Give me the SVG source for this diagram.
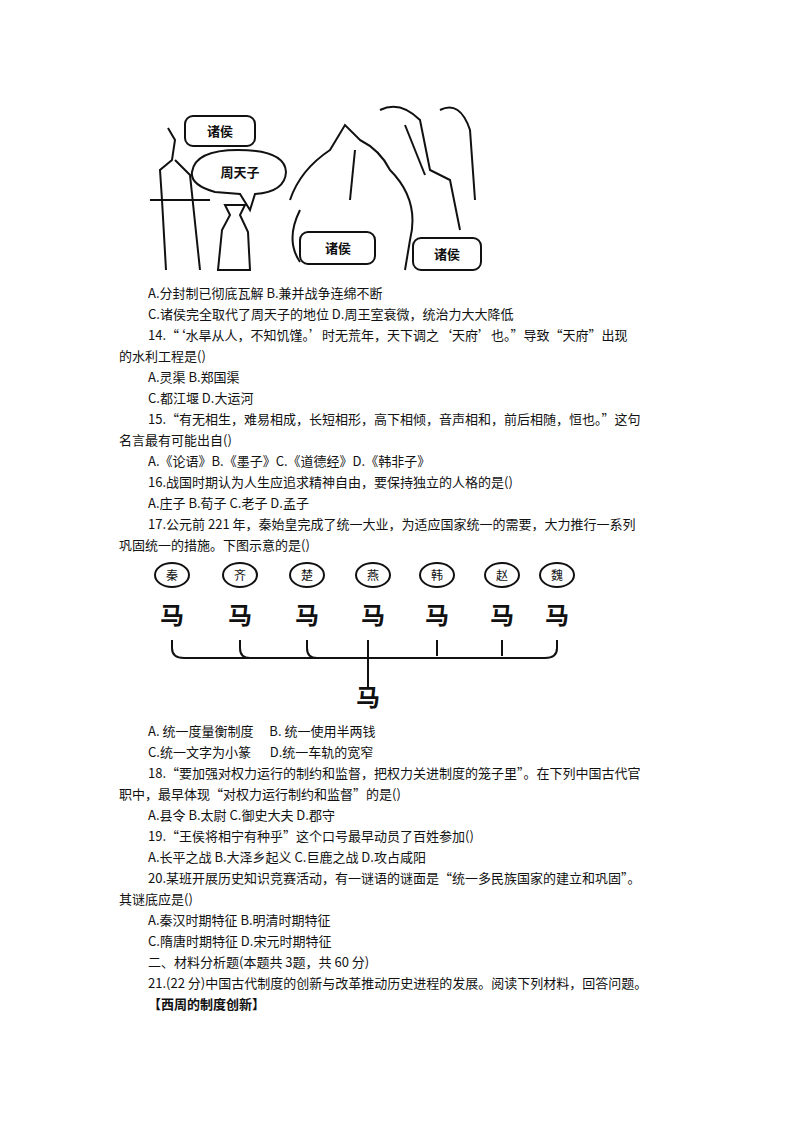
<svg xmlns="http://www.w3.org/2000/svg" width="794" height="1123" viewBox="0 0 794 1123">
<style>
text{font-family:"Noto Sans CJK SC","Liberation Sans",sans-serif;font-size:13px;fill:#111}
.b{font-weight:bold}
.ln{fill:none;stroke:#111;stroke-width:2}
.sl{font-size:24px;font-weight:bold;text-anchor:middle}
.st{font-size:12px;text-anchor:middle}
</style>
<rect width="794" height="1123" fill="#fff"/>
<g id="cartoon">
<path class="ln" d="M168 128 L175 140 L172 160 L160 170 L162 200 L166 270 M175 160 L190 175 L200 270 M150 200 L210 200"/>
<path class="ln" d="M225 205 L230 215 L222 230 L218 270 L250 270 L248 232 L240 215 L245 205 Z"/>
<path class="ln" d="M290 200 Q300 170 330 150 L345 125 L360 140 Q380 150 390 170 Q420 200 410 240 L405 270 M300 210 Q285 240 300 262 M380 110 Q400 100 420 120 L430 170 L450 180 L460 230 M440 110 Q460 100 470 130 L475 200"/>
<path class="ln" d="M355 150 L350 200" stroke-width="4"/>
<path class="ln" d="M405 125 L425 175" stroke-width="6" stroke="#444"/>
</g>
<g id="bubble1"><rect class="ln" x="185" y="116" width="70" height="30" rx="8" fill="#fff"/><text x="220" y="136" text-anchor="middle" class="b">诸侯</text></g>
<g id="bubble2"><path class="ln" d="M215 192 Q190 185 192 172 Q195 150 238 150 Q285 150 286 172 Q285 192 255 194 L250 210 L240 194 Z" fill="#fff"/><text x="240" y="177" text-anchor="middle" class="b" font-size="14">周天子</text></g>
<g id="bubble3"><rect class="ln" x="300" y="232" width="75" height="32" rx="8" fill="#fff"/><text x="338" y="253" text-anchor="middle" class="b">诸侯</text></g>
<g id="bubble4"><rect class="ln" x="413" y="238" width="68" height="32" rx="8" fill="#fff"/><text x="447" y="259" text-anchor="middle" class="b">诸侯</text></g>
<g id="text1">
<text x="148" y="298">A.分封制已彻底瓦解 B.兼并战争连绵不断</text>
<text x="148" y="319">C.诸侯完全取代了周天子的地位 D.周王室衰微，统治力大大降低</text>
<text x="148" y="340">14.“‘水旱从人，不知饥馑。’时无荒年，天下调之‘天府’也。”导致“天府”出现</text>
<text x="119" y="361">的水利工程是()</text>
<text x="148" y="382">A.灵渠 B.郑国渠</text>
<text x="148" y="403">C.都江堰 D.大运河</text>
<text x="148" y="424">15.“有无相生，难易相成，长短相形，高下相倾，音声相和，前后相随，恒也。”这句</text>
<text x="119" y="445">名言最有可能出自()</text>
<text x="148" y="466">A.《论语》B.《墨子》C.《道德经》D.《韩非子》</text>
<text x="148" y="487">16.战国时期认为人生应追求精神自由，要保持独立的人格的是()</text>
<text x="148" y="508">A.庄子 B.荀子 C.老子 D.孟子</text>
<text x="148" y="529">17.公元前 221 年，秦始皇完成了统一大业，为适应国家统一的需要，大力推行一系列</text>
<text x="119" y="550">巩固统一的措施。下图示意的是()</text>
</g>
<g id="states">
<g><ellipse class="ln" cx="172" cy="575" rx="17" ry="12"/><text class="st" x="172" y="580">秦</text></g>
<g><ellipse class="ln" cx="240" cy="575" rx="17" ry="12"/><text class="st" x="240" y="580">齐</text></g>
<g><ellipse class="ln" cx="307" cy="575" rx="17" ry="12"/><text class="st" x="307" y="580">楚</text></g>
<g><ellipse class="ln" cx="373" cy="575" rx="17" ry="12"/><text class="st" x="373" y="580">燕</text></g>
<g><ellipse class="ln" cx="437" cy="575" rx="17" ry="12"/><text class="st" x="437" y="580">韩</text></g>
<g><ellipse class="ln" cx="502" cy="575" rx="17" ry="12"/><text class="st" x="502" y="580">赵</text></g>
<g><ellipse class="ln" cx="557" cy="575" rx="17" ry="12"/><text class="st" x="557" y="580">魏</text></g>
<text class="sl" x="172" y="624">马</text><text class="sl" x="240" y="624">马</text><text class="sl" x="307" y="624">马</text><text class="sl" x="373" y="624">马</text><text class="sl" x="437" y="624">马</text><text class="sl" x="502" y="624">马</text><text class="sl" x="557" y="624">马</text>
<text class="sl" x="368" y="706" font-size="32">马</text>
</g>
<g id="connectors">
<path class="ln" d="M172 640 V648 Q172 658 184 658 H545 Q557 658 557 648 V640 M240 640 V648 Q240 658 250 658 M307 640 V648 Q307 658 317 658 M437 640 V656 M502 640 V656 M368 640 V688"/>
</g>
<g id="text2">
<text x="148" y="736">A. 统一度量衡制度 　B. 统一使用半两钱</text>
<text x="148" y="757">C.统一文字为小篆 　 D.统一车轨的宽窄</text>
<text x="148" y="778">18.“要加强对权力运行的制约和监督，把权力关进制度的笼子里”。在下列中国古代官</text>
<text x="119" y="799">职中，最早体现“对权力运行制约和监督”的是()</text>
<text x="148" y="820">A.县令 B.太尉 C.御史大夫 D.郡守</text>
<text x="148" y="841">19.“王侯将相宁有种乎”这个口号最早动员了百姓参加()</text>
<text x="148" y="862">A.长平之战 B.大泽乡起义 C.巨鹿之战 D.攻占咸阳</text>
<text x="148" y="883">20.某班开展历史知识竞赛活动，有一谜语的谜面是“统一多民族国家的建立和巩固”。</text>
<text x="119" y="904">其谜底应是()</text>
<text x="148" y="925">A.秦汉时期特征 B.明清时期特征</text>
<text x="148" y="946">C.隋唐时期特征 D.宋元时期特征</text>
<text x="148" y="967">二、材料分析题(本题共 3题，共 60 分)</text>
<text x="148" y="988">21.(22 分)中国古代制度的创新与改革推动历史进程的发展。阅读下列材料，回答问题。</text>
<text x="148" y="1009" class="b">【西周的制度创新】</text>
</g>
</svg>
